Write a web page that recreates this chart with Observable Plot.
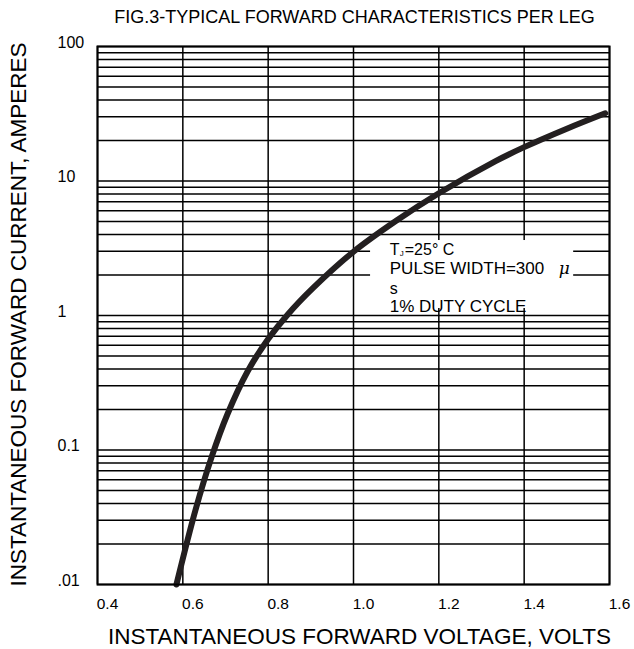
<!DOCTYPE html>
<html><head><meta charset="utf-8">
<script src="https://cdn.jsdelivr.net/npm/d3@7"></script>
<script src="https://cdn.jsdelivr.net/npm/@observablehq/plot@0.6"></script>
<style>html,body{margin:0;padding:0;background:#fff;overflow:hidden}</style>
</head><body><div id="chart"></div>
<script>
// Forward characteristic curve
const voltage = [0.585, 0.630, 0.667, 0.705, 0.752, 0.800, 0.845, 0.906, 1.000, 1.100, 1.200, 1.333, 1.400, 1.500, 1.590];
const current = [0.01, 0.0361, 0.0877, 0.186, 0.385, 0.668, 1.01, 1.61, 2.98, 5.06, 8.11, 14.06, 17.86, 24.5, 31.9];

// Axis ticks
const xTicks = [0.4, 0.6, 0.8, 1.0, 1.2, 1.4, 1.6];
const xTickLabels = ["0.4", "0.6", "0.8", "1.0", "1.2", "1.4", "1.6"];
const yTicks = [100, 10, 1, 0.1, 0.01];
const yTickLabels = ["100", "10", "1", "0.1", ".01"];

// Log-paper grid: multipliers within each decade
const decades = [0.01, 0.1, 1, 10];
const multipliers = [1, 2, 3, 4, 5, 6, 7, 8, 9];

const title = "FIG.3-TYPICAL FORWARD CHARACTERISTICS PER LEG";
const xLabel = "INSTANTANEOUS FORWARD VOLTAGE, VOLTS";
const yLabel = "INSTANTANEOUS FORWARD CURRENT, AMPERES";
const noteLines = ["PULSE WIDTH=300 ", "s", "1% DUTY CYCLE"];

const curveData = voltage.map((v, i) => ({v, i: current[i]}));
const gridY = decades.flatMap(d => multipliers.map(m => m * d)).concat([100]);
const xTickData = xTicks.map((v, k) => ({v, label: xTickLabels[k]}));
const yTickData = yTicks.map((v, k) => ({v, label: yTickLabels[k]}));
const box = [{x1: 1.04, x2: 1.516, y1: 1.127, y2: 3.61}];

const font = "'Liberation Sans', Arial, Helvetica, sans-serif";
const ink = "#000";
const ax = [1.085], ay = [3.06];

const chart = Plot.plot({
  width: 634,
  height: 649,
  marginTop: 46,
  marginBottom: 65,
  marginLeft: 97,
  marginRight: 25,
  style: {fontFamily: font, background: "#fff", color: ink},
  x: {domain: [0.4, 1.6], axis: null},
  y: {type: "log", domain: [0.01, 100], axis: null},
  marks: [
    Plot.ruleY(gridY, {stroke: ink, strokeWidth: 1.5}),
    Plot.ruleX(xTicks, {stroke: ink, strokeWidth: 1.5}),
    Plot.rect(box, {x1: "x1", x2: "x2", y1: "y1", y2: "y2", fill: "#fff"}),
    Plot.line(curveData, {x: "v", y: "i", stroke: "#231f20", strokeWidth: 6, curve: "catmull-rom"}),
    Plot.frame({stroke: ink, strokeWidth: 2}),
    // tick labels
    Plot.text(xTickData, {x: "v", text: "label", frameAnchor: "bottom", lineAnchor: "middle", dy: 20, dx: 10, fontSize: 15.5, fill: ink}),
    Plot.text(yTickData, {y: "v", text: "label", frameAnchor: "left", textAnchor: "start", lineAnchor: "middle", dx: -40, dy: -4, fontSize: 16, fill: ink}),
    // titles
    Plot.text([title], {frameAnchor: "top", lineAnchor: "middle", dy: -29, dx: 1, fontSize: 18, fill: ink}),
    Plot.text([xLabel], {frameAnchor: "bottom", lineAnchor: "middle", dy: 52, dx: 6, fontSize: 22.5, fill: ink}),
    Plot.text([yLabel], {frameAnchor: "left", textAnchor: "middle", lineAnchor: "middle", dx: -79, dy: -1, rotate: -90, fontSize: 22.5, fill: ink}),
    // annotation
    Plot.text(["T"], {x: ax, y: ay, textAnchor: "start", fontSize: 16, fill: ink}),
    Plot.text(["J"], {x: ax, y: ay, textAnchor: "start", dx: 10, dy: 3, fontSize: 8, fill: ink}),
    Plot.text(["=25\u00B0 C"], {x: ax, y: ay, textAnchor: "start", dx: 15, fontSize: 16, fill: ink}),
    Plot.text([noteLines[0]], {x: ax, y: ay, textAnchor: "start", dy: 18.6, fontSize: 17, fill: ink}),
    Plot.text(["\u03BC"], {x: ax, y: ay, textAnchor: "start", dx: 169, dy: 18.6, fontSize: 17, fontStyle: "italic", fontFamily: "'DejaVu Serif', serif", fill: ink}),
    Plot.text([noteLines[1]], {x: ax, y: ay, textAnchor: "start", dy: 38.9, fontSize: 16, fill: ink}),
    Plot.text([noteLines[2]], {x: ax, y: ay, textAnchor: "start", dy: 56.5, fontSize: 17, fill: ink})
  ]
});
document.getElementById("chart").appendChild(chart);
</script>
</body></html>
